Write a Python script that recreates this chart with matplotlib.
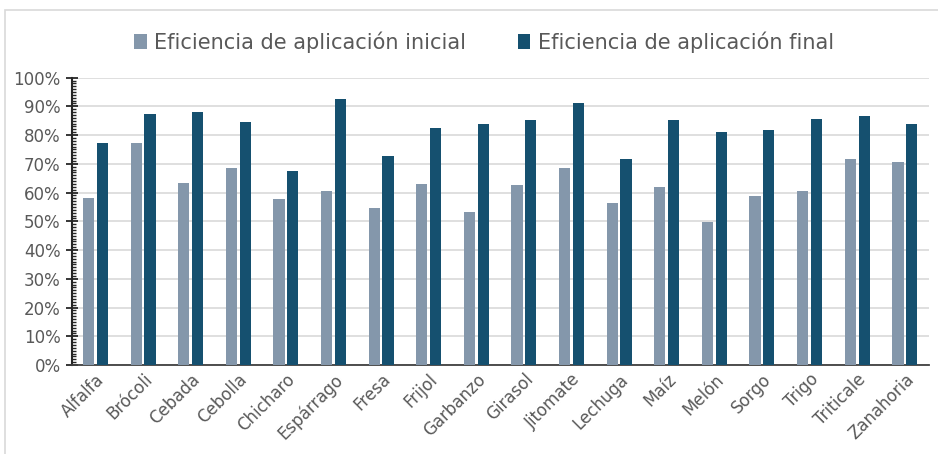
import numpy as np
import matplotlib.pyplot as plt
from matplotlib.ticker import MultipleLocator, PercentFormatter
from matplotlib.patches import Rectangle

cultivos = ['Alfalfa', 'Brócoli', 'Cebada', 'Cebolla', 'Chicharo', 'Espárrago',
            'Fresa', 'Frijol', 'Garbanzo', 'Girasol', 'Jitomate', 'Lechuga',
            'Maíz', 'Melón', 'Sorgo', 'Trigo', 'Triticale', 'Zanahoria']
ef_inicial = [58.2, 77.2, 63.4, 68.7, 57.7, 60.4, 54.7, 63.0, 53.3,
              62.5, 68.5, 56.4, 61.8, 49.7, 58.7, 60.7, 71.7, 70.5]
ef_final = [77.2, 87.3, 88.0, 84.4, 67.6, 92.4, 72.9, 82.6, 84.0,
            85.3, 91.3, 71.7, 85.3, 81.2, 81.9, 85.6, 86.6, 83.7]

c_ini = '#8497ab'
c_fin = '#15506f'
gris = '#595959'

fig = plt.figure(figsize=(9.38, 4.54), dpi=100)
ax = fig.add_axes([0.0764, 0.196, 0.9136, 0.633])

x = np.arange(len(cultivos))
w = 0.235
ax.bar(x - 0.145, ef_inicial, w, color=c_ini, label='Eficiencia de aplicación inicial', zorder=3)
ax.bar(x + 0.145, ef_final, w, color=c_fin, label='Eficiencia de aplicación final', zorder=3)

ax.set_xlim(-0.5, len(cultivos) - 0.5)
ax.set_ylim(0, 100)
ax.yaxis.set_major_locator(MultipleLocator(10))
ax.yaxis.set_minor_locator(MultipleLocator(1))
ax.yaxis.set_major_formatter(PercentFormatter(decimals=0))
ax.grid(axis='y', color='#d9d9d9', linewidth=1.2, zorder=0)

for s in ['top', 'right']:
    ax.spines[s].set_visible(False)
ax.spines['left'].set_color('#262626')
ax.spines['left'].set_linewidth(1.5)
ax.spines['bottom'].set_color('#404040')
ax.spines['bottom'].set_linewidth(1.3)

ax.tick_params(axis='y', which='major', direction='inout', length=8, width=1.3,
               color='#262626', labelsize=12, labelcolor=gris, pad=4)
ax.tick_params(axis='y', which='minor', direction='in', length=3, width=1, color='#262626')
ax.tick_params(axis='x', length=0, labelsize=12, labelcolor=gris, pad=4)
ax.set_xticks(x)
ax.set_xticklabels(cultivos, rotation=45, ha='right', rotation_mode='anchor')

fig.legend(loc='center', bbox_to_anchor=(0.516, 0.908), ncol=2, frameon=False,
           fontsize=15, handlelength=0.6, handleheight=0.75, handletextpad=0.35,
           columnspacing=2.5, labelcolor=gris)

# marco exterior del gráfico
fig.patches.append(Rectangle((0.005, -0.01), 1.2, 0.988, transform=fig.transFigure,
                             fill=False, edgecolor='#d9d9d9', linewidth=1.2))

fig.savefig('out.png', dpi=100)
